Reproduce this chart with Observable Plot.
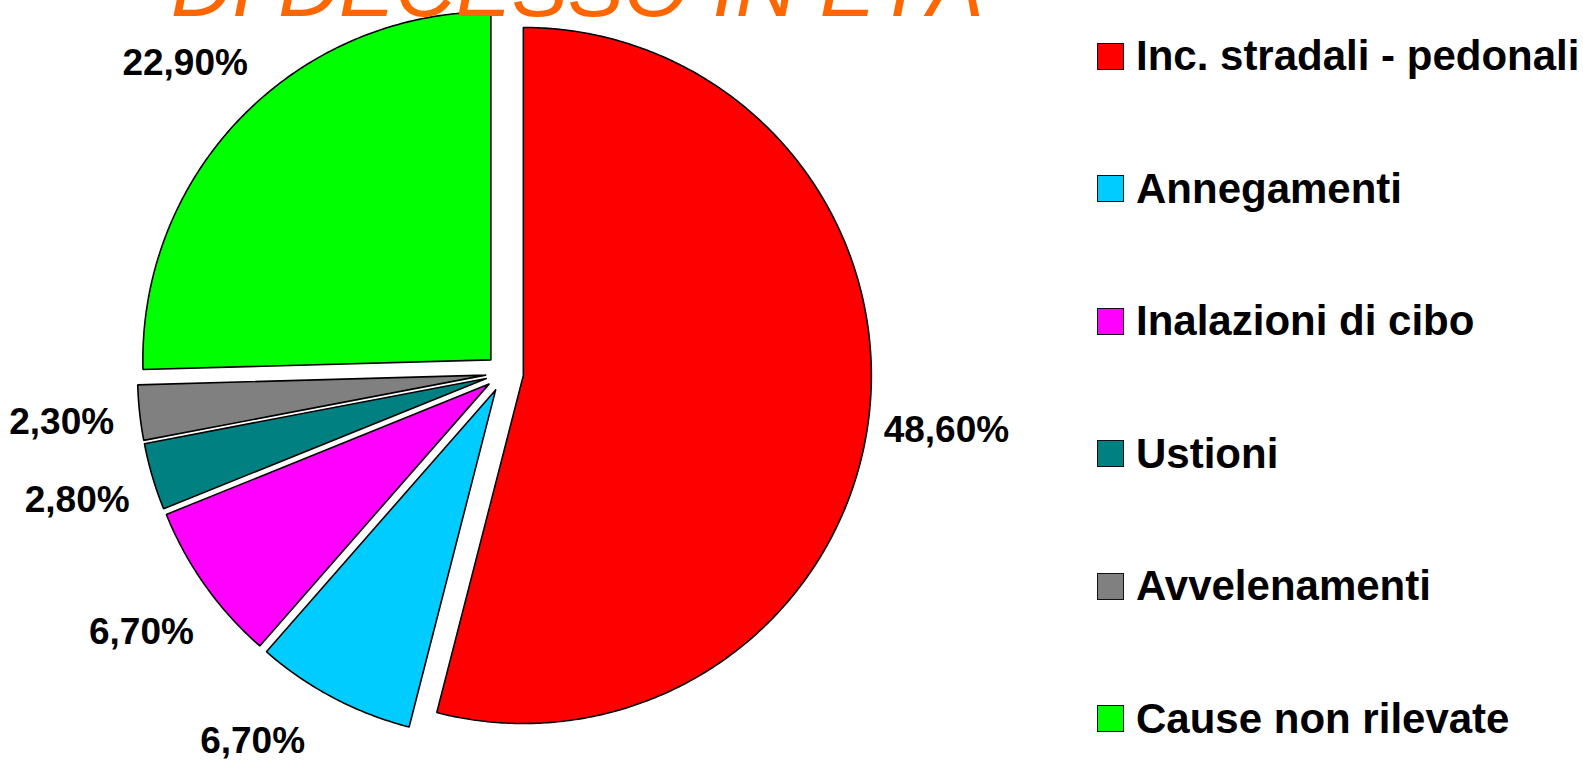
<!DOCTYPE html>
<html>
<head>
<meta charset="utf-8">
<script src="https://cdn.jsdelivr.net/npm/d3@7"></script>
<script src="https://cdn.jsdelivr.net/npm/@observablehq/plot@0.6"></script>
<style>
  html, body { margin: 0; padding: 0; background: #fff; overflow: hidden; }
  #wrap { position: relative; width: 1583px; height: 762px; overflow: hidden; font-family: "Liberation Sans", Arial, sans-serif; }
  #title { position: absolute; left: 171px; top: -55px; font-size: 84px; line-height: 84px; font-style: italic; color: #FF6600; white-space: nowrap; }
  #chart { position: absolute; left: 0; top: 0; }
  #legend { position: absolute; left: 1097px; top: 0; }
  .item { position: absolute; left: 0; display: flex; align-items: center; white-space: nowrap; }
  .sw { width: 25px; height: 25px; border: 1.5px solid #111; box-sizing: content-box; margin-right: 12px; }
  .lt { font-size: 42px; font-weight: bold; color: #000; line-height: 42px; }
</style>
</head>
<body>
<div id="wrap">
  <div id="chart"></div>
  <div id="title">DI DECESSO IN ETÀ</div>
  <div id="legend"></div>
</div>
<script>
// ---- data ----
const categories = ["Inc. stradali - pedonali", "Annegamenti", "Inalazioni di cibo", "Ustioni", "Avvelenamenti", "Cause non rilevate"];
const values = [48.6, 6.7, 6.7, 2.8, 2.3, 22.9];
const colors = ["#FF0000", "#00CCFF", "#FF00FF", "#008080", "#808080", "#00FF00"];
const labels = ["48,60%", "6,70%", "6,70%", "2,80%", "2,30%", "22,90%"];

// ---- layout ----
const W = 1583, H = 762;
const cx = 504, cy = 372.6, R = 348;   // pie centre & radius in px
const explode = 19 / R;                 // explosion offset (radius units)
const labelR = 1.28;                    // label distance (radius units)
const labelHalfH = 21, edgePad = 1;     // keep labels inside the frame

const arcs = d3.pie().sort(null).value(d => d)(values);
const yMin = -(H - cy - edgePad - labelHalfH) / R;
const yMax = (cy - edgePad - labelHalfH) / R;

const points = [];
const labelData = [];
arcs.forEach((a, i) => {
  const mid = (a.startAngle + a.endAngle) / 2;
  const ox = explode * Math.sin(mid), oy = explode * Math.cos(mid);
  const cat = categories[i];
  points.push({cat, x: ox, y: oy});
  const n = Math.max(2, Math.ceil((a.endAngle - a.startAngle) / (Math.PI / 360)));
  for (let k = 0; k <= n; k++) {
    const t = a.startAngle + (a.endAngle - a.startAngle) * k / n;
    points.push({cat, x: ox + Math.sin(t), y: oy + Math.cos(t)});
  }
  points.push({cat, x: ox, y: oy});
  let lx = labelR * Math.sin(mid), ly = labelR * Math.cos(mid);
  // slide the label along its circle if it would leave the frame
  if (ly < yMin || ly > yMax) {
    ly = Math.max(yMin, Math.min(yMax, ly));
    lx = Math.sign(lx) * Math.sqrt(labelR * labelR - ly * ly);
  }
  labelData.push({cat, label: labels[i], x: lx, y: ly});
});

const chart = Plot.plot({
  width: W,
  height: H,
  margin: 0,
  x: {domain: [-cx / R, (W - cx) / R], axis: null},
  y: {domain: [-(H - cy) / R, cy / R], axis: null},
  color: {domain: categories, range: colors},
  style: {background: "transparent", overflow: "visible"},
  marks: [
    Plot.line(points, {x: "x", y: "y", z: "cat", fill: "cat", stroke: "#000", strokeWidth: 1.6, strokeLinejoin: "miter", curve: "linear"}),
    Plot.text(labelData, {x: "x", y: "y", text: "label", fontSize: 37, fontWeight: "bold", fill: "#000", dy: 1,
      fontFamily: "Liberation Sans, Arial, sans-serif"})
  ]
});
document.getElementById("chart").appendChild(chart);

// ---- legend ----
const legend = document.getElementById("legend");
const rowY0 = 56, rowStep = 132.5;
categories.forEach((c, i) => {
  const item = document.createElement("div");
  item.className = "item";
  item.style.top = (rowY0 + i * rowStep - 21) + "px";
  item.style.height = "42px";
  const sw = document.createElement("span");
  sw.className = "sw";
  sw.style.background = colors[i];
  const t = document.createElement("span");
  t.className = "lt";
  t.textContent = c;
  item.appendChild(sw);
  item.appendChild(t);
  legend.appendChild(item);
});
</script>
</body>
</html>
